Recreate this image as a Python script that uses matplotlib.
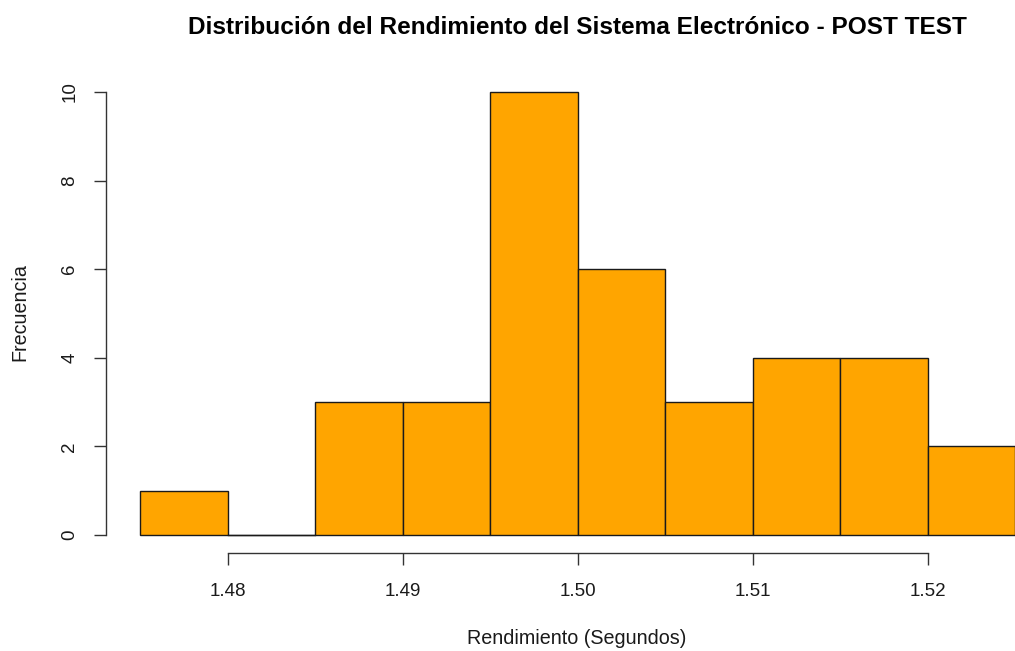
import matplotlib
matplotlib.use("Agg")
import matplotlib.pyplot as plt
import numpy as np

plt.rcParams['font.family'] = ['Liberation Sans', 'DejaVu Sans']

bin_edges = [1.475, 1.480, 1.485, 1.490, 1.495, 1.500, 1.505, 1.510, 1.515, 1.520, 1.525]
counts = [1, 0, 3, 3, 10, 6, 3, 4, 4, 2]
x_ticks = [1.48, 1.49, 1.50, 1.51, 1.52]
x_tick_labels = ["1.48", "1.49", "1.50", "1.51", "1.52"]
y_ticks = [0, 2, 4, 6, 8, 10]

W, H = 1015, 651
fig = plt.figure(figsize=(W / 100, H / 100), dpi=100)
# plot region in pixels
left_px, right_px = 105.5, 1050.0
top_px, bottom_px = 74.3, 552.7
ax = fig.add_axes([left_px / W, 1 - bottom_px / H, (right_px - left_px) / W, (bottom_px - top_px) / H])

lefts = np.array(bin_edges[:-1])
widths = np.diff(bin_edges)
ax.bar(lefts, counts, width=widths, align='edge', color='#FFA500', edgecolor='#1a1a1a', linewidth=1.0)
# zero-height bins drawn as a line
for l, w, c in zip(lefts, widths, counts):
    if c == 0:
        ax.plot([l, l + w], [0, 0], color='#1a1a1a', lw=1.0)

ax.set_xlim(1.473, 1.527)
ax.set_ylim(-0.4, 10.4)

for s in ['top', 'right']:
    ax.spines[s].set_visible(False)
ax.spines['left'].set_bounds(0, 10)
ax.spines['bottom'].set_bounds(1.48, 1.52)
for s in ['left', 'bottom']:
    ax.spines[s].set_color('#333333')
    ax.spines[s].set_linewidth(1.0)

ax.set_xticks(x_ticks)
ax.set_xticklabels(x_tick_labels)
ax.set_yticks(y_ticks)
ax.set_yticklabels([str(v) for v in y_ticks], rotation=90, va='center')
ax.tick_params(axis='both', length=8.6, width=1.0, color='#333333', labelsize=13.5, labelcolor='#1a1a1a')
ax.tick_params(axis='x', pad=13)
ax.tick_params(axis='y', pad=11)

fig.text(577.5 / W, 1 - 28 / H, "Distribución del Rendimiento del Sistema Electrónico - POST TEST",
         ha='center', va='center', fontsize=17.6, fontweight='bold', color='black')
fig.text(577 / W, 1 - 638 / H, "Rendimiento (Segundos)", ha='center', va='center', fontsize=14.2, color='#1a1a1a')
fig.text(20 / W, 1 - 312 / H, "Frecuencia", ha='center', va='center', rotation=90, fontsize=14.2, color='#1a1a1a')

fig.savefig("out.png", dpi=100)
